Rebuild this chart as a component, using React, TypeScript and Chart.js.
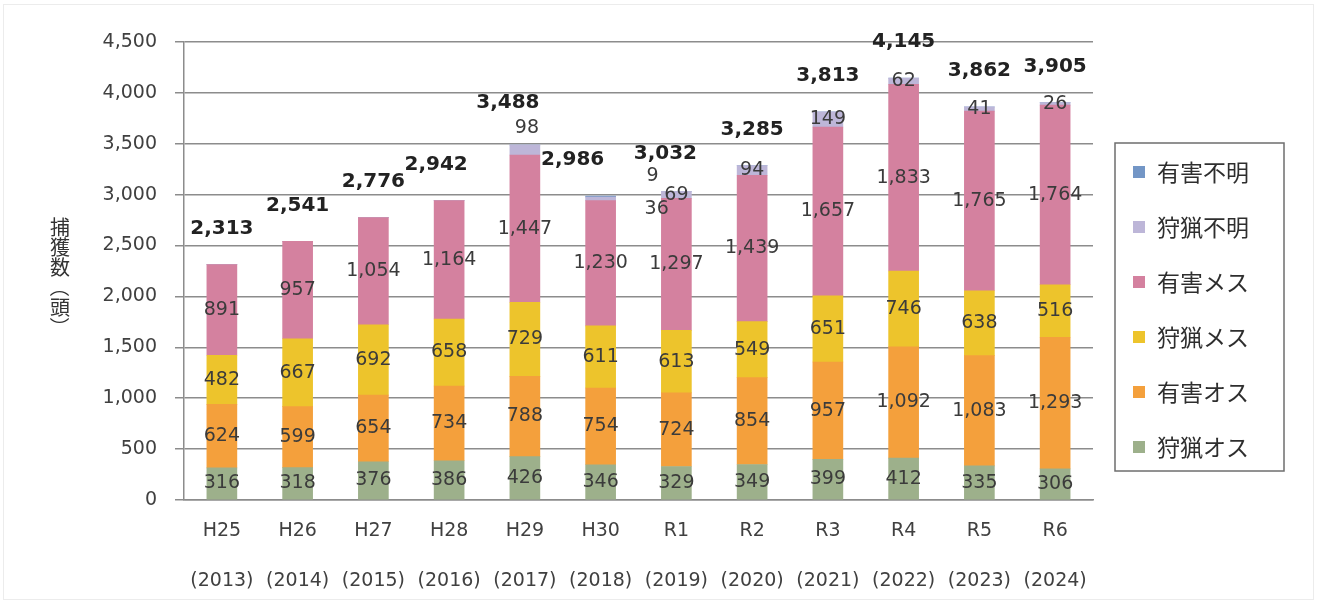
import React, { useEffect, useRef } from "react";
import { Chart, registerables } from "chart.js";

Chart.register(...registerables);

// ---- data ----
const categories = ["H25", "H26", "H27", "H28", "H29", "H30", "R1", "R2", "R3", "R4", "R5", "R6"];
const years = ["(2013)", "(2014)", "(2015)", "(2016)", "(2017)", "(2018)", "(2019)", "(2020)", "(2021)", "(2022)", "(2023)", "(2024)"];
const seriesNames = ["狩猟オス", "有害オス", "狩猟メス", "有害メス", "狩猟不明", "有害不明"];
const huntMale = [316, 318, 376, 386, 426, 346, 329, 349, 399, 412, 335, 306];
const pestMale = [624, 599, 654, 734, 788, 754, 724, 854, 957, 1092, 1083, 1293];
const huntFemale = [482, 667, 692, 658, 729, 611, 613, 549, 651, 746, 638, 516];
const pestFemale = [891, 957, 1054, 1164, 1447, 1230, 1297, 1439, 1657, 1833, 1765, 1764];
const huntUnknown = [0, 0, 0, 0, 98, 36, 69, 94, 149, 62, 41, 26];
const pestUnknown = [0, 0, 0, 0, 0, 9, 0, 0, 0, 0, 0, 0];
const yTickValues = [0, 500, 1000, 1500, 2000, 2500, 3000, 3500, 4000, 4500];
const yTitle = ["捕", "獲", "数", "（", "頭", "）"];

// ---- styles ----
const colors = ["#9db08b", "#f4a03c", "#edc42c", "#d4819f", "#bdb6d8", "#7396c6"];
const gridColor = "#8c8c8c";
const textColor = "#3b3b3b";
const numFont = '"DejaVu Sans", sans-serif';
const jpFont = '"Noto Sans CJK JP", sans-serif';

// label nudges (pixels) for labels placed off-centre in the original
const segmentNudge: Record<string, { dx: number; dy: number }> = {
  "4:4": { dx: 2, dy: -22 },
  "4:5": { dx: 56, dy: 10 },
  "5:5": { dx: 52, dy: -20 },
};
const totalNudge: Record<number, { dx: number; dy: number }> = {
  3: { dx: -13, dy: 0 },
  4: { dx: -17, dy: -6 },
  5: { dx: -28, dy: 0 },
  6: { dx: -11, dy: -2 },
};

const fmt = (v: number) => v.toLocaleString("en-US");

const seriesValues = [huntMale, pestMale, huntFemale, pestFemale, huntUnknown, pestUnknown];
const totals = categories.map((_, i) => seriesValues.reduce((s, arr) => s + arr[i], 0));

const labelsPlugin = {
  id: "segmentLabels",
  afterDatasetsDraw(chart: any) {
    const ctx = chart.ctx;
    ctx.save();
    ctx.textAlign = "center";
    ctx.textBaseline = "middle";
    ctx.fillStyle = textColor;
    ctx.font = `19px ${numFont}`;
    chart.data.datasets.forEach((ds: any, di: number) => {
      const meta = chart.getDatasetMeta(di);
      meta.data.forEach((el: any, i: number) => {
        const v = ds.data[i];
        if (!v) return;
        const n = segmentNudge[`${di}:${i}`] || { dx: 0, dy: 0 };
        const y = (el.y + el.base) / 2;
        ctx.fillText(fmt(v), el.x + n.dx, y + n.dy);
      });
    });
    // totals
    const yScale = chart.scales.y;
    const meta0 = chart.getDatasetMeta(0);
    ctx.font = `bold 20px ${numFont}`;
    ctx.fillStyle = "#222";
    totals.forEach((t, i) => {
      const n = totalNudge[i] || { dx: 0, dy: 0 };
      const x = meta0.data[i].x;
      const top = yScale.getPixelForValue(t);
      ctx.fillText(fmt(t), x + n.dx, top - 36 + n.dy);
    });
    ctx.restore();
  },
};

const decorPlugin = {
  id: "decor",
  afterDraw(chart: any) {
    const ctx = chart.ctx;
    const area = chart.chartArea;
    ctx.save();
    // faint outer frame
    ctx.strokeStyle = "#ececec";
    ctx.lineWidth = 1;
    ctx.strokeRect(3.5, 4.5, chart.width - 11, chart.height - 7);

    // y-axis title (vertical)
    ctx.fillStyle = "#333";
    ctx.font = `20px ${jpFont}`;
    ctx.textAlign = "center";
    ctx.textBaseline = "middle";
    const cx = 60;
    let cy = 227;
    yTitle.forEach((ch) => {
      if (ch === "（" || ch === "）") {
        ctx.save();
        ctx.translate(cx, cy);
        ctx.rotate(Math.PI / 2);
        ctx.fillText(ch, 0, 0);
        ctx.restore();
      } else {
        ctx.fillText(ch, cx, cy);
      }
      cy += 20;
    });

    // legend
    const lx = area.right + 22;
    const ly = 143;
    const lw = 169;
    const lh = 328;
    ctx.strokeStyle = "#6e6e6e";
    ctx.lineWidth = 1.5;
    ctx.strokeRect(lx, ly, lw, lh);
    ctx.font = `23px ${jpFont}`;
    ctx.textAlign = "left";
    const n = chart.data.datasets.length;
    for (let k = 0; k < n; k++) {
      const di = n - 1 - k;
      const ds = chart.data.datasets[di];
      const yy = ly + 29 + k * 55;
      ctx.fillStyle = ds.backgroundColor;
      ctx.fillRect(lx + 18, yy - 6, 12, 12);
      ctx.fillStyle = "#2e2e2e";
      ctx.fillText(ds.label, lx + 42, yy);
    }
    ctx.restore();
  },
};

export default function App() {
  const ref = useRef<HTMLCanvasElement>(null);
  useEffect(() => {
    const chart = new Chart(ref.current!, {
      type: "bar",
      data: {
        labels: categories.map((c, i) => [c, years[i]]),
        datasets: seriesValues.map((arr, i) => ({
          label: seriesNames[i],
          data: arr,
          backgroundColor: colors[i],
          borderWidth: 0,
          barThickness: 30,
        })),
      },
      options: {
        animation: false,
        responsive: true,
        maintainAspectRatio: false,
        layout: { padding: { top: 42, right: 228, bottom: 0, left: 0 } },
        plugins: {
          legend: { display: false },
          tooltip: { enabled: false },
          title: { display: false },
        },
        scales: {
          x: {
            stacked: true,
            grid: { display: false },
            border: { display: true, color: gridColor, width: 1.5 },
            ticks: {
              color: "#404040",
              padding: -2,
              font: { family: numFont, size: 19, lineHeight: "50px" },
              maxRotation: 0,
              autoSkip: false,
            },
            afterFit: (s: any) => {
              s.height = 102;
            },
          },
          y: {
            stacked: true,
            min: 0,
            max: 4500,
            afterBuildTicks: (s: any) => {
              s.ticks = yTickValues.map((v) => ({ value: v }));
            },
            grid: { color: gridColor, lineWidth: 1.5, drawTicks: true, tickLength: 9 },
            border: { display: true, color: gridColor, width: 1.5 },
            ticks: {
              color: "#404040",
              padding: 18,
              font: { family: numFont, size: 19 },
              callback: (v: any) => fmt(Number(v)),
            },
            afterFit: (s: any) => {
              s.width = 184;
            },
          },
        },
      },
      plugins: [labelsPlugin, decorPlugin],
    } as any);
    return () => chart.destroy();
  }, []);
  return (
    <div style={{ position: "absolute", left: 0, top: 0, width: 1321, height: 602, background: "#fff" }}>
      <canvas ref={ref} />
    </div>
  );
}
